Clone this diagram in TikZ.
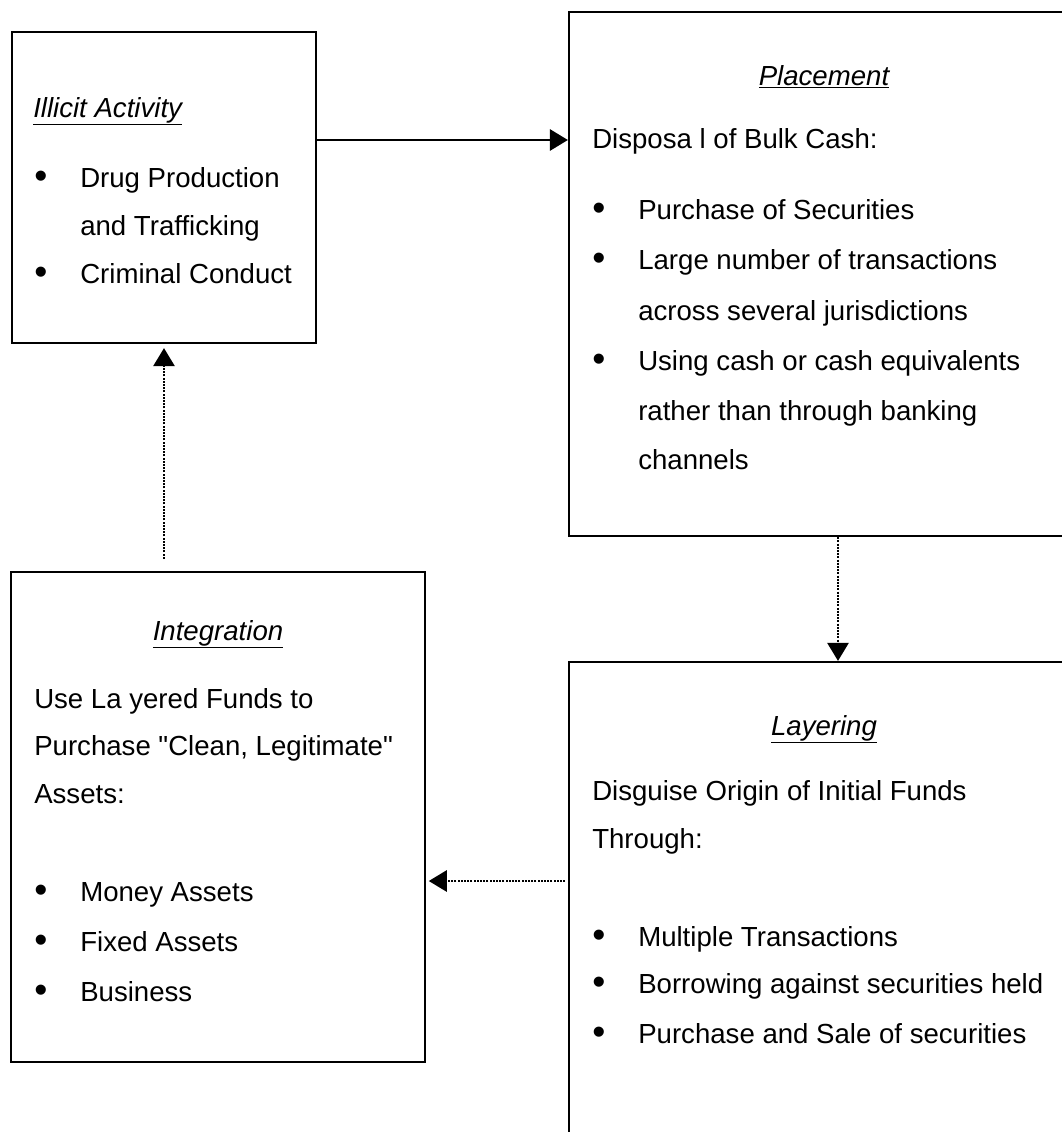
\documentclass[tikz,border=0pt]{standalone}
\usepackage{fontspec}
\setmainfont{Liberation Sans}
\newfontfamily\plainquote{Liberation Sans}
\usetikzlibrary{arrows.meta}

\tikzset{
  stage/.style={draw, rectangle, line width=1.7pt, inner sep=0pt},
  txt/.style={anchor=base west, inner sep=0pt, font=\fontsize{20.7pt}{24pt}\selectfont},
  hdr/.style={anchor=base, inner sep=0pt, font=\fontsize{20.7pt}{24pt}\selectfont\itshape},
  flow/.style={line width=1.5pt, -{Triangle[length=13.5pt,width=16pt]}},
  dotflow/.style={flow, line width=1.2pt, dash pattern=on 1.5pt off 0.9pt},
}
\newcommand{\bul}{\makebox[34.5pt][l]{\raisebox{-0.07em}{\scalebox{1.35}{\textbullet}}}}
\newcommand{\dq}{{\plainquote"}}

\begin{document}
\begin{tikzpicture}[x=0.75pt,y=-0.75pt]
\useasboundingbox (0,0) rectangle (1062,1132);
\clip (0,0) rectangle (1062,1132);
\node (illicit) [stage, minimum width=228pt, minimum height=233.25pt] at (164,187.5) {};
\node (placement) [stage, minimum width=383.25pt, minimum height=393pt] at (824.5,274) {};
\node (layering) [stage, minimum width=383.25pt, minimum height=403.5pt] at (824.5,931) {};
\node (integration) [stage, minimum width=310.5pt, minimum height=367.5pt] at (218,817) {};
\node (ia0) [hdr, anchor=base west] at (33,117) {\underline{Illicit Activity}};
\node (ia1) [txt] at (34,187) {\bul Drug Production};
\node (ia2) [txt] at (80,235) {and Trafficking};
\node (ia3) [txt] at (34,283) {\bul Criminal Conduct};
\node (pl0) [hdr] at (824,85) {\underline{Placement}};
\node (pl1) [txt] at (592,148) {Disposa l of Bulk Cash:};
\node (pl2) [txt] at (592,219) {\bul Purchase of Securities};
\node (pl3) [txt] at (592,269) {\bul Large number of transactions};
\node (pl4) [txt] at (638,320) {across several jurisdictions};
\node (pl5) [txt] at (592,370) {\bul Using cash or cash equivalents};
\node (pl6) [txt] at (638,420) {rather than through banking};
\node (pl7) [txt] at (638,469) {channels};
\node (ly0) [hdr] at (824,735) {\underline{Layering}};
\node (ly1) [txt] at (592,800) {Disguise Origin of Initial Funds};
\node (ly2) [txt] at (592,848) {Through:};
\node (ly3) [txt] at (592,946) {\bul Multiple Transactions};
\node (ly4) [txt] at (592,993) {\bul Borrowing against securities held};
\node (ly5) [txt] at (592,1043) {\bul Purchase and Sale of securities};
\node (in0) [hdr] at (218,640) {\underline{Integration}};
\node (in1) [txt] at (34,708) {Use La yered Funds to};
\node (in2) [txt] at (34,755) {Purchase \dq Clean, Legitimate\dq};
\node (in3) [txt] at (34,803) {Assets:};
\node (in4) [txt] at (34,901) {\bul Money Assets};
\node (in5) [txt] at (34,951) {\bul Fixed Assets};
\node (in6) [txt] at (34,1001) {\bul Business};
\draw [flow] (illicit.east |- 0,140) -- (placement.west |- 0,140);
\draw [dotflow] (838,0 |- placement.south) -- (838,0 |- layering.north);
\draw [dotflow, shorten <=2pt, shorten >=2pt] (layering.west |- 0,881) -- (integration.east |- 0,881);
\draw [dotflow, shorten <=9pt, shorten >=3pt] (illicit.south |- integration.north) -- (illicit.south);
\end{tikzpicture}
\end{document}
